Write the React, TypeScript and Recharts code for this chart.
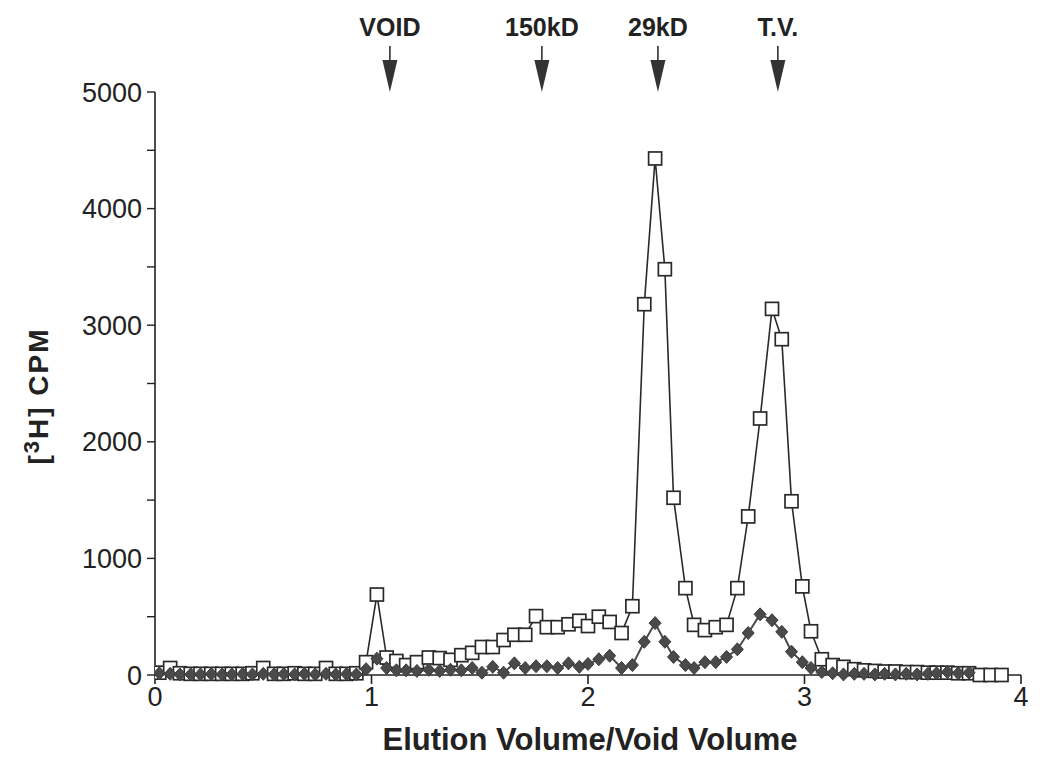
import React from "react";
import { LineChart, Line, XAxis, YAxis, ReferenceDot } from "recharts";

// elution volume / void volume of each fraction
const elution = [
  0.02, 0.07, 0.115, 0.165, 0.21, 0.26, 0.31, 0.355, 0.405, 0.45,
  0.5, 0.55, 0.595, 0.645, 0.69, 0.74, 0.79, 0.835, 0.885, 0.93,
  0.975, 1.025, 1.07, 1.115, 1.16, 1.21, 1.265, 1.315, 1.365, 1.415,
  1.465, 1.51, 1.56, 1.61, 1.66, 1.71, 1.76, 1.81, 1.86, 1.91,
  1.96, 2.0, 2.05, 2.1, 2.155, 2.205, 2.26, 2.31, 2.355, 2.395,
  2.45, 2.49, 2.54, 2.59, 2.64, 2.69, 2.74, 2.795, 2.85, 2.895,
  2.94, 2.99, 3.03, 3.08, 3.13, 3.18, 3.23, 3.275, 3.325, 3.37,
  3.42, 3.47, 3.52, 3.57, 3.61, 3.66, 3.71, 3.76, 3.81, 3.86, 3.91,
];

// open squares
const squareCpm = [
  20, 60, 15, 10, 10, 10, 10, 10, 10, 15,
  60, 10, 10, 15, 10, 10, 60, 10, 10, 15,
  110, 690, 150, 120, 85, 110, 150, 145, 130, 170,
  190, 240, 240, 300, 345, 345, 505, 410, 410, 435,
  465, 420, 500, 455, 360, 590, 3180, 4430, 3480, 1520,
  745, 430, 385, 410, 430, 745, 1360, 2200, 3140, 2880,
  1490, 760, 375, 135, 85, 70, 50, 40, 35, 30,
  30, 25, 25, 20, 20, 20, 15, 15, 0, 0, 0,
];

// filled diamonds
const diamondCpm: (number | null)[] = [
  15, 10, 5, 5, 5, 8, 5, 5, 8, 5,
  10, 5, 8, 5, 10, 5, 10, 5, 8, 5,
  50, 140, 60, 40, 40, 35, 45, 35, 45, 40,
  60, 20, 70, 20, 100, 60, 75, 75, 60, 100,
  70, 95, 135, 165, 60, 85, 285, 445, 285, 155,
  85, 60, 110, 110, 155, 220, 360, 520, 470, 370,
  200, 110, 60, 25, 15, 5, 10, 10, 5, 10,
  5, 10, 5, 10, 15, 25, 15, 20, null, null, null,
];

const xTicks = [0, 1, 2, 3, 4];
const yTicks = [0, 500, 1000, 1500, 2000, 2500, 3000, 3500, 4000, 4500, 5000];

const markerNames = ["VOID", "150kD", "29kD", "T.V."];
const markerPositions = [1.085, 1.787, 2.323, 2.877];

const FONT = "'Liberation Sans', Arial, Helvetica, sans-serif";
const INK = "#222";

const data = elution.map((x, i) => ({ x, sq: squareCpm[i], dm: diamondCpm[i] }));

const SquareDot = (props: any) => {
  const { cx, cy, key } = props;
  if (cx == null || cy == null) return <g key={key} />;
  return (
    <rect
      key={key}
      x={cx - 6.5}
      y={cy - 6.5}
      width={13}
      height={13}
      fill="#fff"
      stroke="#2a2a2a"
      strokeWidth={1.7}
    />
  );
};

const DiamondDot = (props: any) => {
  const { cx, cy, key } = props;
  if (cx == null || cy == null) return <g key={key} />;
  return (
    <path
      key={key}
      d={`M${cx},${cy - 6.5} L${cx + 6},${cy} L${cx},${cy + 6.5} L${cx - 6},${cy} Z`}
      fill="#4a4a4a"
      stroke="#3a3a3a"
      strokeWidth={1}
    />
  );
};

const markerShape = (name: string) => (props: any) => {
  const { cx, cy } = props;
  return (
    <g>
      <text
        x={cx}
        y={cy - 56}
        textAnchor="middle"
        fontFamily={FONT}
        fontWeight="bold"
        fontSize={25}
        fill={INK}
      >
        {name}
      </text>
      <line x1={cx} y1={cy - 46} x2={cx} y2={cy - 31} stroke={INK} strokeWidth={1.5} />
      <path d={`M${cx - 7.5},${cy - 32} L${cx + 7.5},${cy - 32} L${cx},${cy} Z`} fill="#333" />
    </g>
  );
};

export default function App() {
  return (
    <div style={{ position: "absolute", left: 0, top: 0, background: "#fff" }}>
      <LineChart
        width={1042}
        height={762}
        data={data}
        margin={{ top: 92, right: 21, bottom: 17, left: 75 }}
      >
        <XAxis
          dataKey="x"
          type="number"
          domain={[0, 4]}
          ticks={xTicks}
          allowDataOverflow
          height={70}
          tickSize={9}
          tickMargin={3}
          axisLine={{ stroke: INK, strokeWidth: 1.6 }}
          tickLine={{ stroke: INK, strokeWidth: 1.6 }}
          tick={{ fill: INK, fontSize: 27, fontFamily: FONT }}
          label={{
            content: () => (
              <text
                x={590}
                y={750}
                textAnchor="middle"
                fontFamily={FONT}
                fontWeight="bold"
                fontSize={31}
                fill={INK}
              >
                Elution Volume/Void Volume
              </text>
            ),
          }}
        />
        <YAxis
          type="number"
          domain={[0, 5000]}
          ticks={yTicks}
          width={80}
          tickSize={8}
          tickMargin={5}
          interval={0}
          tickFormatter={(v: number) => (v % 1000 === 0 ? String(v) : "")}
          axisLine={{ stroke: INK, strokeWidth: 1.6 }}
          tickLine={{ stroke: INK, strokeWidth: 1.4 }}
          tick={{ fill: INK, fontSize: 27, fontFamily: FONT }}
          label={{
            content: () => (
              <text
                transform="translate(48,396) rotate(-90)"
                textAnchor="middle"
                fontFamily={FONT}
                fontWeight="bold"
                fontSize={28}
                letterSpacing={2}
                fill={INK}
              >
                [<tspan dy={-9} fontSize={22}>3</tspan>
                <tspan dy={9}>H] CPM</tspan>
              </text>
            ),
          }}
        />
        <Line
          dataKey="sq"
          stroke="#2a2a2a"
          strokeWidth={1.6}
          dot={SquareDot}
          activeDot={false}
          isAnimationActive={false}
        />
        <Line
          dataKey="dm"
          stroke="#4a4a4a"
          strokeWidth={2}
          dot={DiamondDot}
          activeDot={false}
          connectNulls={false}
          isAnimationActive={false}
        />
        {markerNames.map((name, i) => (
          <ReferenceDot
            key={name}
            x={markerPositions[i]}
            y={5000}
            ifOverflow="visible"
            shape={markerShape(name)}
          />
        ))}
      </LineChart>
    </div>
  );
}
